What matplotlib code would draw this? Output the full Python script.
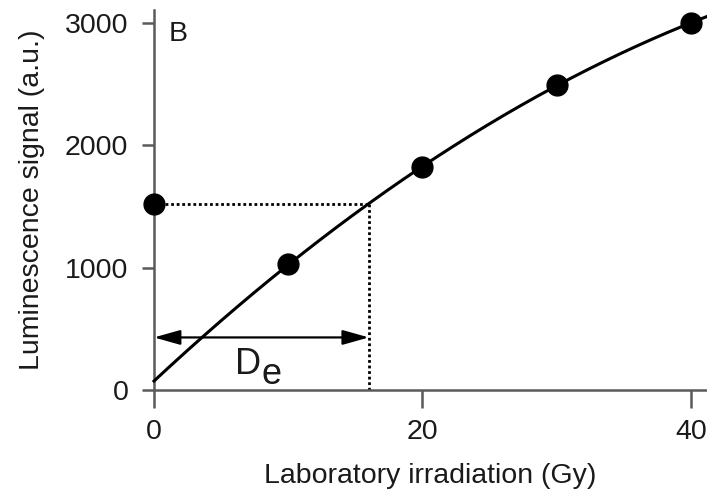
import numpy as np
import matplotlib
matplotlib.use("Agg")
import matplotlib.pyplot as plt

plt.rcParams['font.family'] = ['Liberation Sans', 'DejaVu Sans']

# regenerative dose points (Gy) and their luminescence signals
dose = [10, 20, 30, 40]
signal = [1027, 1820, 2498, 3000]
# natural signal, plotted at zero laboratory dose
natural_signal = 1525

x_ticks = [0, 20, 40]
y_ticks = [0, 1000, 2000, 3000]

axis_grey = '#5a5a5a'
text_col = '#1a1a1a'
fs = 20.5

# quadratic growth curve through the regenerated points
coef = np.polyfit(dose, signal, 2)
roots = np.roots(coef - np.array([0, 0, natural_signal]))
roots = roots[np.isreal(roots)].real
de = roots[(roots > 0) & (roots < max(dose))][0]

fig = plt.figure(figsize=(7.07, 4.93), dpi=100)
ax = fig.add_axes([0.2178, 0.2089, 0.7822, 0.7708])

xmax = 41.2
xs = np.linspace(0, xmax, 300)
ax.plot(xs, np.polyval(coef, xs), color='black', lw=2.2, zorder=3, clip_on=False)

ax.plot([0] + dose, [natural_signal] + signal, 'o', color='black', ms=15,
        zorder=5, clip_on=False)

# dotted projection of the natural signal onto the curve
ax.plot([0, de], [natural_signal, natural_signal], color='black', lw=2.0,
        ls=(0, (1, 1)), zorder=2)
ax.plot([de, de], [natural_signal, 0], color='black', lw=2.0,
        ls=(0, (1, 1)), zorder=2)

# equivalent dose arrow
ax.annotate('', xy=(0, 430), xytext=(de, 430),
            arrowprops=dict(arrowstyle='<|-|>,head_length=1.6,head_width=0.45',
                            color='black', lw=1.6, shrinkA=0, shrinkB=0))
ax.annotate('D', xy=(6.0, 130), fontsize=26, color=text_col, va='baseline')
ax.annotate('e', xy=(6.0, 130), xytext=(19.5, -7), textcoords='offset points',
            fontsize=26, color=text_col, va='baseline')

ax.text(1.1, 3020, 'B', fontsize=fs, color=text_col, va='top', ha='left')

ax.set_xlim(0, xmax)
ax.set_ylim(0, 3108)
ax.set_xticks(x_ticks)
ax.set_yticks(y_ticks)

for side in ['top', 'right']:
    ax.spines[side].set_visible(False)
for side in ['left', 'bottom']:
    ax.spines[side].set_color(axis_grey)
    ax.spines[side].set_linewidth(1.8)

ax.tick_params(axis='x', direction='out', length=13, width=1.8, color=axis_grey,
               labelsize=fs, labelcolor=text_col, pad=8)
ax.tick_params(axis='y', direction='out', length=8.5, width=1.8, color=axis_grey,
               labelsize=fs, labelcolor=text_col, pad=10)

ax.set_xlabel('Laboratory irradiation (Gy)', fontsize=fs, color=text_col, labelpad=13)
ax.set_ylabel('Luminescence signal (a.u.)', fontsize=fs, color=text_col, labelpad=14)

fig.savefig('out.png', dpi=100)
